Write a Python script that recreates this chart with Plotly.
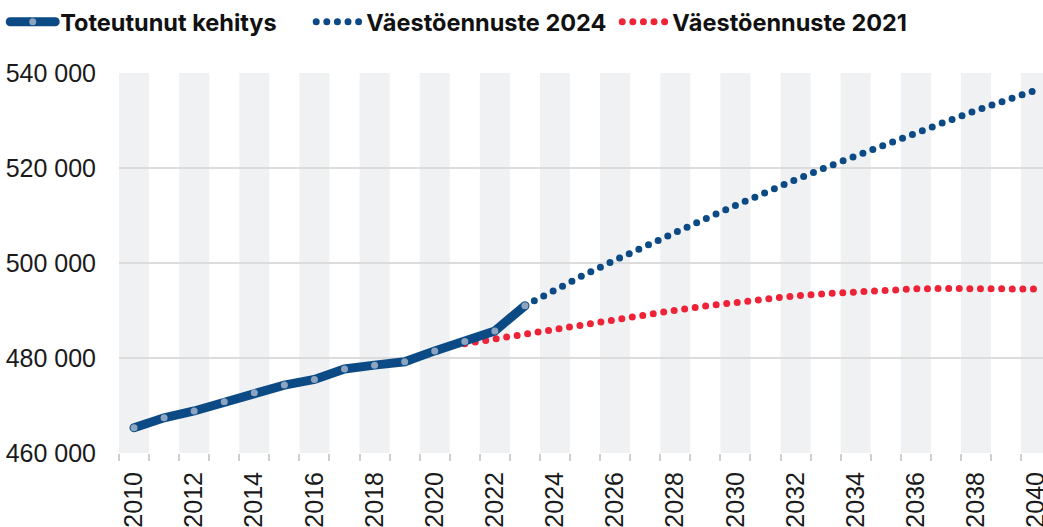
import plotly.graph_objects as go

# years on the x axis
years = list(range(2010, 2041))
label_years = list(range(2010, 2041, 2))

# realised population
hist_years = list(range(2010, 2024))
hist_vals = [465300, 467400, 468850, 470800, 472700, 474300, 475500,
             477700, 478500, 479200, 481500, 483500, 485700, 491000]

# forecast 2024
f24_years = list(range(2023, 2041))
f24_vals = [491000, 494500, 497600, 500600, 503600, 506500, 509300, 512100,
            515000, 517550, 520100, 522600, 525100, 527500, 529750, 532100,
            534300, 536400]

# forecast 2021
f21_years = list(range(2021, 2041))
f21_vals = [483000, 484050, 485130, 486100, 487200, 488100, 489200, 490050,
            490950, 491650, 492570, 493100, 493540, 493940, 494300, 494570,
            494640, 494700, 494640, 494500]

y_ticks = [460000, 480000, 500000, 520000, 540000]

BLUE = "#0b4a85"
RED = "#ee2338"
DOTS = "0px,10.6px"

fig = go.Figure()

# red under the others
fig.add_trace(go.Scatter(
    x=f21_years, y=f21_vals, name="Väestöennuste 2021",
    mode="lines", line=dict(color=RED, width=7, dash=DOTS),
    legendrank=3,
))
fig.add_trace(go.Scatter(
    x=f24_years, y=f24_vals, name="Väestöennuste 2024",
    mode="lines", line=dict(color=BLUE, width=7, dash=DOTS),
    legendrank=2,
))
fig.add_trace(go.Scatter(
    x=hist_years, y=hist_vals, name="Toteutunut kehitys",
    mode="lines+markers",
    line=dict(color=BLUE, width=9),
    marker=dict(color="#8ca4bf", size=7, line=dict(width=0)),
    legendrank=1,
))

# gray bands on even years
for yr in years:
    if yr % 2 == 0:
        fig.add_shape(type="rect", xref="x", yref="paper",
                      x0=yr - 0.5, x1=yr + 0.5, y0=0, y1=1,
                      fillcolor="#f0f1f3", line_width=0, layer="below")

fig.update_layout(
    width=1043, height=527,
    margin=dict(l=119, r=0, t=73, b=74, autoexpand=False),
    plot_bgcolor="white", paper_bgcolor="white",
    separators=", ",
    font=dict(family="Liberation Sans, Arial, sans-serif", size=25, color="#1a1a1a"),
    showlegend=True,
    legend=dict(
        orientation="h",
        xref="container", yref="container",
        x=0.005, y=1.0, xanchor="left", yanchor="top",
        itemwidth=45,
        entrywidth=246,
        font=dict(family="Inter, Roboto, sans-serif", size=23.5, color="#111",
                  weight="bold"),
        bgcolor="rgba(0,0,0,0)",
    ),
    xaxis=dict(
        range=[2009.5, 2040.23],
        automargin=False,
        tickmode="array", tickvals=label_years,
        ticktext=[str(y) for y in label_years],
        tickangle=-90, ticks="", showgrid=False, zeroline=False,
        showline=False,
        ticklabelstandoff=13,
        ticklabeloverflow="allow",
        minor=dict(ticks="outside", tickmode="array",
                   tickvals=[y - 0.5 for y in years] + [2040.5],
                   ticklen=7, tickcolor="#cfcfcf", tickwidth=1.5, showgrid=False),
    ),
    yaxis=dict(
        range=[460000, 540000],
        automargin=False,
        tickmode="array", tickvals=y_ticks,
        tickformat=",d",
        showgrid=True, gridcolor="#dcdcdc", gridwidth=2,
        zeroline=False, showline=False, ticks="",
        ticklabelstandoff=22,
    ),
)

post = """
document.body.style.margin = '0';
function roundCaps(){
  document.querySelectorAll('path.js-line, .legendlines path').forEach(function(p){
    p.style.strokeLinecap = 'round';
  });
}
roundCaps();
var gd = document.getElementsByClassName('plotly-graph-div')[0];
if (gd && gd.on) { gd.on('plotly_afterplot', roundCaps); }
"""

fig.write_html("out.html", post_script=post, config={"displayModeBar": False})
